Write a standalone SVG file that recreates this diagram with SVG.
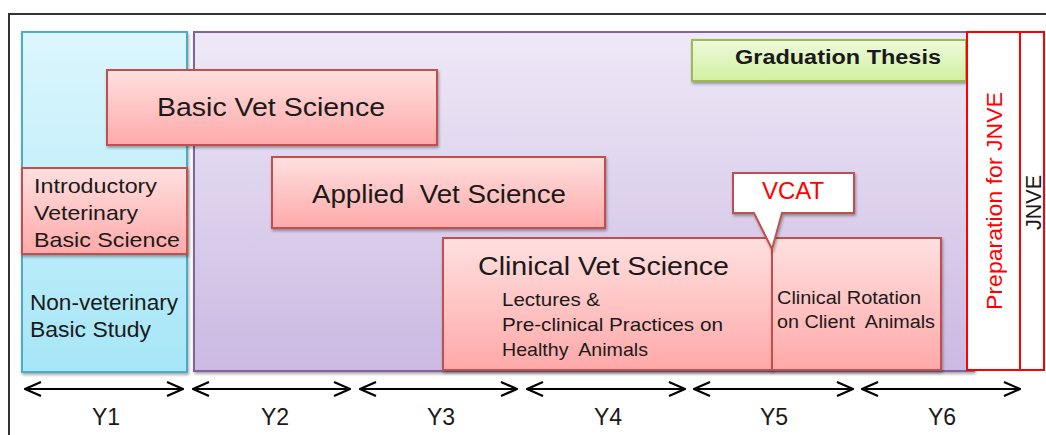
<svg xmlns="http://www.w3.org/2000/svg" width="1046" height="435" viewBox="0 0 1046 435">
<defs>
<linearGradient id="gBlue" x1="0" y1="0" x2="0" y2="1"><stop offset="0" stop-color="#ddf6fd"/><stop offset="1" stop-color="#a6e6f7"/></linearGradient>
<linearGradient id="gPurple" x1="0" y1="0" x2="0" y2="1"><stop offset="0" stop-color="#efe9f7"/><stop offset="1" stop-color="#cbb9e2"/></linearGradient>
<linearGradient id="gRed" x1="0" y1="0" x2="0" y2="1"><stop offset="0" stop-color="#ffe0e0"/><stop offset="1" stop-color="#ffa9a9"/></linearGradient>
<linearGradient id="gGreen" x1="0" y1="0" x2="0" y2="1"><stop offset="0" stop-color="#eefadb"/><stop offset="1" stop-color="#d2f0a0"/></linearGradient>
<filter id="sh" x="-10%" y="-10%" width="130%" height="130%"><feGaussianBlur in="SourceAlpha" stdDeviation="1.5"/><feOffset dx="1" dy="2"/><feComponentTransfer><feFuncA type="linear" slope="0.35"/></feComponentTransfer><feMerge><feMergeNode/><feMergeNode in="SourceGraphic"/></feMerge></filter>
<marker id="ah" viewBox="0 0 18 16" refX="17" refY="8" markerWidth="18" markerHeight="16" markerUnits="userSpaceOnUse" orient="auto-start-reverse"><path d="M1,1 L17,8 L1,15" fill="none" stroke="#000" stroke-width="2.2"/></marker>
</defs>
<style>
.t{font-family:"Liberation Sans",Arial,sans-serif;fill:#1a1a1a}
.red{fill:url(#gRed);stroke:#c0504d;stroke-width:2}
.yr{font-family:"Liberation Sans",Arial,sans-serif;font-size:23px;fill:#1a1a1a;text-anchor:middle}
.arr{stroke:#000;stroke-width:2.2;fill:none;marker-start:url(#ah);marker-end:url(#ah)}
</style>
<rect width="1046" height="435" fill="#fff"/>
<path d="M9,435 V14 H1046" fill="none" stroke="#333" stroke-width="2"/>
<g id="y1-area"><rect x="22" y="32" width="165" height="340" fill="url(#gBlue)" stroke="#4bacc6" stroke-width="2" filter="url(#sh)"/>
<text class="t" font-size="22" x="30" y="310" textLength="148" lengthAdjust="spacingAndGlyphs">Non-veterinary</text><text class="t" font-size="22" x="30" y="337" textLength="121" lengthAdjust="spacingAndGlyphs">Basic Study</text></g>
<g id="main-area"><rect x="194" y="32" width="780" height="339" fill="url(#gPurple)" stroke="#8064a2" stroke-width="2" filter="url(#sh)"/></g>
<g id="basic"><rect class="red" x="107" y="70" width="330" height="75" filter="url(#sh)"/><text class="t" font-size="26" x="157" y="116" textLength="228" lengthAdjust="spacingAndGlyphs">Basic Vet Science</text></g>
<g id="intro"><rect class="red" x="22" y="168" width="165" height="86" filter="url(#sh)"/>
<text class="t" font-size="21" x="34" y="193" textLength="123" lengthAdjust="spacingAndGlyphs">Introductory</text><text class="t" font-size="21" x="34" y="220" textLength="104" lengthAdjust="spacingAndGlyphs">Veterinary</text><text class="t" font-size="21" x="34" y="247" textLength="146" lengthAdjust="spacingAndGlyphs">Basic Science</text></g>
<g id="applied"><rect class="red" x="272" y="157" width="333" height="71" filter="url(#sh)"/><text class="t" font-size="26" x="312" y="203" textLength="254" lengthAdjust="spacingAndGlyphs" xml:space="preserve">Applied  Vet Science</text></g>
<g id="clinical"><rect class="red" x="443" y="238" width="329" height="132" filter="url(#sh)"/>
<text class="t" font-size="26" x="478" y="275" textLength="251" lengthAdjust="spacingAndGlyphs">Clinical Vet Science</text>
<text class="t" font-size="19" x="502" y="306" textLength="98" lengthAdjust="spacingAndGlyphs">Lectures &amp;</text><text class="t" font-size="19" x="502" y="331" textLength="221" lengthAdjust="spacingAndGlyphs">Pre-clinical Practices on</text><text class="t" font-size="19" x="502" y="356" textLength="146" lengthAdjust="spacingAndGlyphs" xml:space="preserve">Healthy  Animals</text></g>
<g id="rotation"><rect class="red" x="772" y="238" width="169" height="132" filter="url(#sh)"/>
<text class="t" font-size="18" x="777" y="304" textLength="144" lengthAdjust="spacingAndGlyphs">Clinical Rotation</text><text class="t" font-size="18" x="777" y="328" textLength="158" lengthAdjust="spacingAndGlyphs" xml:space="preserve">on Client  Animals</text></g>
<g id="vcat"><path d="M733,173 H854 V213 H782 L772,249 L754,213 H733 Z" fill="#fff" stroke="#c0504d" stroke-width="2" filter="url(#sh)"/>
<text font-family="Liberation Sans,Arial,sans-serif" font-size="24" fill="#ff0000" x="793" y="199" text-anchor="middle">VCAT</text></g>
<g id="thesis"><rect x="692" y="40" width="274" height="41" fill="url(#gGreen)" stroke="#9bbb59" stroke-width="2" filter="url(#sh)"/>
<text class="t" font-size="20" font-weight="bold" x="735" y="64" textLength="206" lengthAdjust="spacingAndGlyphs">Graduation Thesis</text></g>
<g id="prep"><rect x="967" y="32" width="53" height="338" fill="#fff" stroke="#ff0000" stroke-width="2"/>
<text font-family="Liberation Sans,Arial,sans-serif" font-size="22" fill="#ff0000" transform="translate(1002,310) rotate(-90)" textLength="218" lengthAdjust="spacingAndGlyphs">Preparation for JNVE</text></g>
<g id="jnve"><rect x="1020" y="32" width="24" height="338" fill="#fff" stroke="#ff0000" stroke-width="2"/>
<text class="t" font-size="22" transform="translate(1041,230) rotate(-90)" textLength="55" lengthAdjust="spacingAndGlyphs">JNVE</text></g>
<g id="connectors">
<line class="arr" x1="25" y1="389" x2="183" y2="389"/>
<line class="arr" x1="193" y1="389" x2="350" y2="389"/>
<line class="arr" x1="360" y1="389" x2="517" y2="389"/>
<line class="arr" x1="527" y1="389" x2="685" y2="389"/>
<line class="arr" x1="694" y1="389" x2="853" y2="389"/>
<line class="arr" x1="862" y1="389" x2="1020" y2="389"/>
</g>
<g id="years">
<text class="yr" x="106" y="425">Y1</text><text class="yr" x="275" y="425">Y2</text><text class="yr" x="441" y="425">Y3</text><text class="yr" x="608" y="425">Y4</text><text class="yr" x="774" y="425">Y5</text><text class="yr" x="942" y="425">Y6</text>
</g>
</svg>
